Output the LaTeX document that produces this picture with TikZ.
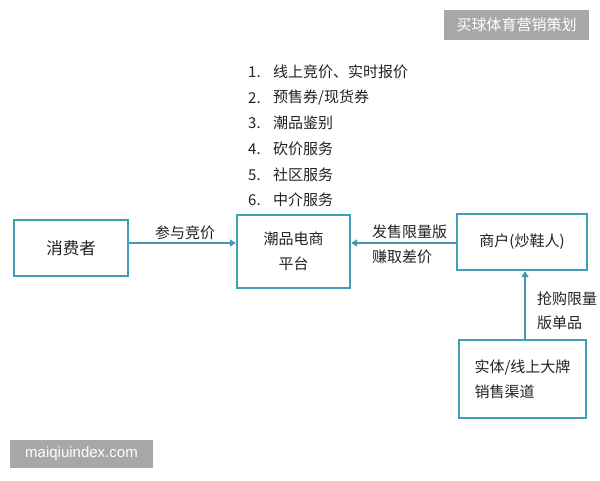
\documentclass[tikz,border=0pt]{standalone}
\usepackage{fontspec}
\setmainfont{Noto Sans CJK SC}
\newfontfamily\latinsans{Liberation Sans}
\usetikzlibrary{arrows.meta}
\definecolor{boxc}{RGB}{62,160,184}
\definecolor{arrc}{RGB}{70,150,180}
\definecolor{txt}{RGB}{34,34,34}
\definecolor{wmgray}{RGB}{168,168,168}
\begin{document}
\begin{tikzpicture}[x=1pt,y=-1pt,
  box/.style={draw=boxc, line width=2.4pt, fill=white, align=center,
    font=\fontsize{15}{25}\selectfont, text=txt, inner sep=0pt},
  conn/.style={draw=arrc, line width=1.8pt, -{Triangle[length=6pt,width=7pt]}},
  lbl/.style={font=\fontsize{15}{18}\selectfont, text=txt, inner sep=0pt, anchor=west},
  wm/.style={fill=wmgray, text=white, inner sep=0pt}]
\useasboundingbox (0,0) rectangle (600,480);
\fill[white] (0,0) rectangle (600,480);

% boxes
\node[box, minimum width=114pt, minimum height=56pt, font=\fontsize{16.5}{25}\selectfont] (cons) at (71,248) {消费者};
\node[box, minimum width=113pt, minimum height=73pt] (plat) at (293.5,251.5) {潮品电商\\平台};
\node[box, minimum width=130pt, minimum height=56pt] (merch) at (522,242) {商户(炒鞋人)};
\node[box, minimum width=127pt, minimum height=78pt, align=left] (chan) at (522.5,379) {实体/线上大牌\\销售渠道};

% helper coordinates
\coordinate (ay) at (0,243);
\coordinate (ax) at (525,0);

% connectors
\draw[conn] (cons.east |- ay) -- (plat.west |- ay);
\draw[conn] (merch.west |- ay) -- (plat.east |- ay);
\draw[conn] (chan.north -| ax) -- (merch.south -| ax);

% connector labels
\node[lbl] (l1) at (155,233) {参与竞价};
\node[lbl] (l2a) at (372,232) {发售限量版};
\node[lbl] (l2b) at (372,257) {赚取差价};
\node[lbl] (l3a) at (537,299) {抢购限量};
\node[lbl] (l3b) at (537,323) {版单品};

% list
\node[lbl] (n1) at (248,72) {1.};  \node[lbl] (t1) at (273,72) {线上竞价、实时报价};
\node[lbl] (n2) at (248,98) {2.};  \node[lbl] (t2) at (273,98) {预售券/现货券};
\node[lbl] (n3) at (248,123) {3.}; \node[lbl] (t3) at (273,123) {潮品鉴别};
\node[lbl] (n4) at (248,149) {4.}; \node[lbl] (t4) at (273,149) {砍价服务};
\node[lbl] (n5) at (248,175) {5.}; \node[lbl] (t5) at (273,175) {社区服务};
\node[lbl] (n6) at (248,200) {6.}; \node[lbl] (t6) at (273,200) {中介服务};

% watermarks
\node[wm, minimum width=145pt, minimum height=30pt, font=\fontsize{15}{18}\selectfont] (wm1) at (516.5,25) {买球体育营销策划};
\node[wm, minimum width=143pt, minimum height=28pt, font=\latinsans\fontsize{15}{18}\selectfont] (wm2) at (81.5,454) {maiqiuindex.com};
\end{tikzpicture}
\end{document}
